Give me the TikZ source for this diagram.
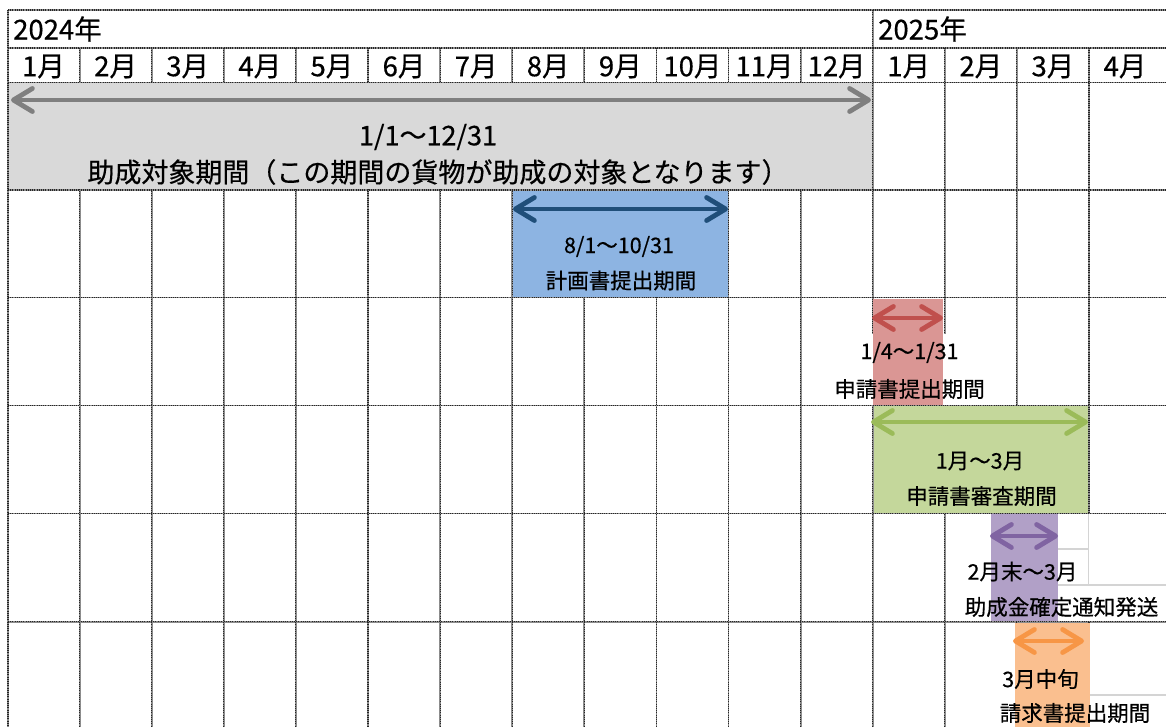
\documentclass[tikz,border=0pt]{standalone}
\usepackage{fontspec}
\newfontfamily\jp{Noto Sans CJK JP}[FakeBold=0.5]
\usetikzlibrary{arrows.meta}
\definecolor{gfill}{HTML}{D9D9D9}
\definecolor{garr}{HTML}{7F7F7F}
\definecolor{bfill}{HTML}{8DB4E2}
\definecolor{barr}{HTML}{1F4E79}
\definecolor{rfill}{HTML}{DA9694}
\definecolor{rarr}{HTML}{C0504D}
\definecolor{grfill}{HTML}{C4D79B}
\definecolor{grarr}{HTML}{9BBB59}
\definecolor{pfill}{HTML}{B1A0C7}
\definecolor{parr}{HTML}{8064A2}
\definecolor{ofill}{HTML}{FABF8F}
\definecolor{oarr}{HTML}{F79646}
\definecolor{lightline}{HTML}{D4D4D4}
\begin{document}
\begin{tikzpicture}[x=1pt,y=-1pt,
  glbase/.style={draw=black!45, line width=1.8pt},
  gl/.style={draw=black!85, line width=1.1pt, dash pattern=on 1pt off 1.2pt},
  ll/.style={draw=lightline, line width=1.6pt},
  arr/.style={line width=4.8pt, line cap=round,
    {Straight Barb[length=19pt,width=23pt,round]}-{Straight Barb[length=19pt,width=23pt,round]}},
  hdr/.style={font=\jp\fontsize{27.5}{27.5}\selectfont, inner sep=0pt},
  big/.style={font=\jp\fontsize{27}{27}\selectfont, inner sep=0pt},
  sml/.style={font=\jp\fontsize{21.5}{21.5}\selectfont, inner sep=0pt}]
\useasboundingbox (0,0) rectangle (1166,727);
\fill[white] (0,0) rectangle (1166,727);

% grid
\foreach \s in {glbase,gl}{
  \foreach \y in {10,48,82.5,190,297.5,405.5,513.5,621.8}
    \draw[\s] (8,\y) -- (1166,\y);
  \draw[\s] (8,10) -- (8,727);
  \draw[\s] (872.7,10) -- (872.7,48);
  \foreach \i in {1,...,15}
    \draw[\s] ({7.5+72.1*\i},48) -- ({7.5+72.1*\i},727);
}

% period boxes
\fill[gfill] (9,83.4) rectangle (871.8,189.1);
\fill[bfill] (513.1,190.9) rectangle (727.6,296.6);
\fill[white] (805,334) rectangle (1012,404.5);
\fill[rfill] (872.5,298.5) rectangle (942.5,404.5);
\fill[grfill] (873.6,406.4) rectangle (1088.1,512.6);
\fill[white] (1058,514.4) rectangle (1166,620.9);
\fill[pfill] (991,514.4) rectangle (1058,620.9);
\draw[ll] (1088.5,514.4) -- (1088.5,585);
\draw[ll] (1058,549) -- (1088.5,549);
\draw[ll] (1058,585) -- (1166,585);
\fill[white] (1088,622.7) rectangle (1166,727);
\fill[ofill] (1015,622.7) rectangle (1090,727);
\draw[ll] (1090,695) -- (1166,695);

% arrows
\coordinate (ga1) at (11,100);   \coordinate (ga2) at (871,100);
\coordinate (ba1) at (513,209);  \coordinate (ba2) at (728,209);
\coordinate (ra1) at (872,318);  \coordinate (ra2) at (943,318);
\coordinate (gra1) at (871,422); \coordinate (gra2) at (1088,422);
\coordinate (pa1) at (990,536);  \coordinate (pa2) at (1058,536);
\coordinate (oa1) at (1013,641); \coordinate (oa2) at (1084,641);
\draw[arr, garr] (ga1) -- (ga2);
\draw[arr, barr] (ba1) -- (ba2);
\draw[arr, rarr] (ra1) -- (ra2);
\draw[arr, grarr] (gra1) -- (gra2);
\draw[arr, parr] (pa1) -- (pa2);
\draw[arr, oarr] (oa1) -- (oa2);

% headers
\node[hdr, anchor=west] (y2024) at (13,29) {2024年};
\node[hdr, anchor=west] (y2025) at (878,29) {2025年};
\foreach \m [count=\i from 0] in {1月,2月,3月,4月,5月,6月,7月,8月,9月,10月,11月,12月,1月,2月,3月,4月}
  \node[hdr] (m\i) at ({7.5+72.1*\i+36},66.5) {\m};

% labels
\node[big] (gt1) at (428,137) {1/1～12/31};
\node[big] (gt2) at (438,172) {助成対象期間（この期間の貨物が助成の対象となります）};
\node[sml] (bt1) at (619,246.5) {8/1～10/31};
\node[sml] (bt2) at (621,280.5) {計画書提出期間};
\node[sml] (rt1) at (909.5,352.5) {1/4～1/31};
\node[sml] (rt2) at (909.5,389) {申請書提出期間};
\node[sml] (grt1) at (980,461) {1月～3月};
\node[sml] (grt2) at (981.5,496) {申請書審査期間};
\node[sml] (pt1) at (1022.5,571.5) {2月末～3月};
\node[sml] (pt2) at (1061.5,607) {助成金確定通知発送};
\node[sml] (ot1) at (1040.5,679) {3月中旬};
\node[sml] (ot2) at (1075,713) {請求書提出期間};
\end{tikzpicture}
\end{document}
